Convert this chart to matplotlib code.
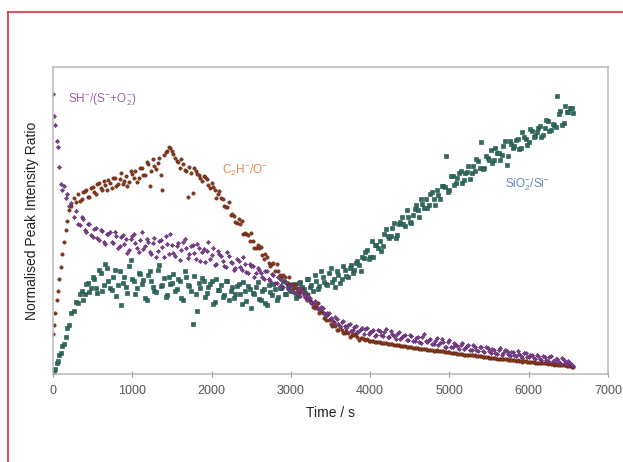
import matplotlib
matplotlib.use("Agg")
import matplotlib.pyplot as plt
from matplotlib.lines import Line2D

plt.rcParams['font.family'] = ['Liberation Sans', 'DejaVu Sans']
plt.rcParams['mathtext.default'] = 'regular'

#-------------------------------------
# sample times (s) of the first set of readings
time_s = [0, 15, 30, 45, 60, 80, 100, 120, 140, 160,
          180, 200, 230, 260, 290, 320, 360, 400, 440, 480,
          520, 560, 600, 640, 680, 720, 760, 800, 840, 880,
          920, 960, 1000, 1040, 1080, 1120, 1160, 1200, 1240, 1280,
          1320, 1360, 1400, 1440, 1480, 1520, 1560, 1600, 1640, 1680,
          1720, 1760, 1800, 1840, 1880, 1920, 1960, 2000, 2040, 2080,
          2120, 2160, 2200, 2240, 2280, 2320, 2360, 2400, 2440, 2480,
          2520, 2560, 2600, 2640, 2680, 2720, 2760, 2800, 2840, 2880,
          2920, 2960, 3000, 3040, 3080, 3120, 3160, 3200, 3240, 3280,
          3320, 3360, 3400, 3440, 3480, 3520, 3560, 3600, 3640, 3680,
          3720, 3760, 3800, 3840, 3880, 3920, 3960, 4000, 4040, 4080,
          4120, 4160, 4200, 4240, 4280, 4320, 4360, 4400, 4440, 4480,
          4520, 4560, 4600, 4640, 4680, 4720, 4760, 4800, 4840, 4880,
          4920, 4960, 5000, 5040, 5080, 5120, 5160, 5200, 5240, 5280,
          5320, 5360, 5400, 5440, 5480, 5520, 5560, 5600, 5640, 5680,
          5720, 5760, 5800, 5840, 5880, 5920, 5960, 6000, 6040, 6080,
          6120, 6160, 6200, 6240, 6280, 6320, 6360, 6400, 6440, 6480,
          6520, 6560]

# SH- / (S- + O2-)
sh_ratio = [0.912, 0.84, 0.811, 0.76, 0.74, 0.675, 0.62, 0.60, 0.612, 0.575,
            0.585, 0.548, 0.556, 0.512, 0.531, 0.49, 0.512, 0.47, 0.488, 0.452,
            0.472, 0.445, 0.468, 0.431, 0.455, 0.462, 0.427, 0.449, 0.418, 0.452,
            0.44, 0.405, 0.451, 0.428, 0.398, 0.462, 0.417, 0.43, 0.392, 0.445,
            0.402, 0.438, 0.381, 0.425, 0.456, 0.395, 0.418, 0.372, 0.43, 0.41,
            0.392, 0.421, 0.375, 0.41, 0.398, 0.366, 0.43, 0.388, 0.357, 0.402,
            0.385, 0.352, 0.398, 0.365, 0.34, 0.374, 0.35, 0.382, 0.332, 0.36,
            0.352, 0.328, 0.34, 0.315, 0.336, 0.31, 0.325, 0.298, 0.318, 0.292,
            0.30, 0.278, 0.292, 0.265, 0.271, 0.255, 0.262, 0.24, 0.248, 0.228,
            0.232, 0.21, 0.215, 0.19, 0.198, 0.178, 0.186, 0.165, 0.17, 0.158,
            0.16, 0.142, 0.155, 0.138, 0.148, 0.13, 0.151, 0.136, 0.145, 0.128,
            0.14, 0.125, 0.148, 0.12, 0.132, 0.115, 0.138, 0.122, 0.128, 0.112,
            0.125, 0.108, 0.12, 0.10, 0.132, 0.106, 0.114, 0.098, 0.118, 0.102,
            0.105, 0.09, 0.112, 0.088, 0.096, 0.082, 0.10, 0.086, 0.094, 0.08,
            0.09, 0.075, 0.088, 0.072, 0.084, 0.068, 0.079, 0.066, 0.085, 0.07,
            0.074, 0.06, 0.072, 0.058, 0.066, 0.052, 0.07, 0.056, 0.062, 0.05,
            0.058, 0.046, 0.055, 0.042, 0.06, 0.04, 0.048, 0.036, 0.045, 0.032,
            0.036, 0.026]

# C2H- / O-
c2h_ratio = [0.13, 0.16, 0.20, 0.24, 0.27, 0.31, 0.35, 0.39, 0.43, 0.47,
             0.498, 0.535, 0.548, 0.572, 0.561, 0.585, 0.57, 0.596, 0.578, 0.605,
             0.592, 0.618, 0.605, 0.628, 0.598, 0.621, 0.64, 0.612, 0.635, 0.62,
             0.645, 0.625, 0.652, 0.66, 0.638, 0.672, 0.65, 0.685, 0.66, 0.678,
             0.688, 0.65, 0.712, 0.726, 0.735, 0.718, 0.695, 0.672, 0.684, 0.66,
             0.675, 0.59, 0.662, 0.65, 0.628, 0.642, 0.615, 0.622, 0.598, 0.585,
             0.572, 0.548, 0.545, 0.518, 0.515, 0.492, 0.49, 0.458, 0.455, 0.432,
             0.432, 0.41, 0.412, 0.388, 0.39, 0.362, 0.36, 0.335, 0.336, 0.312,
             0.315, 0.296, 0.294, 0.28, 0.282, 0.266, 0.262, 0.242, 0.24, 0.22,
             0.222, 0.20, 0.198, 0.178, 0.176, 0.158, 0.157, 0.145, 0.144, 0.134,
             0.134, 0.126, 0.127, 0.12, 0.119, 0.114, 0.114, 0.108, 0.109, 0.104,
             0.104, 0.10, 0.101, 0.097, 0.098, 0.094, 0.095, 0.091, 0.092, 0.089,
             0.088, 0.086, 0.085, 0.082, 0.083, 0.079, 0.08, 0.077, 0.078, 0.074,
             0.074, 0.071, 0.072, 0.068, 0.069, 0.066, 0.066, 0.063, 0.064, 0.061,
             0.061, 0.058, 0.058, 0.055, 0.056, 0.053, 0.053, 0.05, 0.051, 0.048,
             0.048, 0.045, 0.046, 0.043, 0.043, 0.041, 0.042, 0.039, 0.04, 0.037,
             0.037, 0.035, 0.036, 0.033, 0.033, 0.031, 0.031, 0.029, 0.029, 0.027,
             0.026, 0.024]

# SiO2- / Si-
sio2_ratio = [0.0, 0.01, 0.018, 0.035, 0.042, 0.062, 0.068, 0.092, 0.098, 0.122,
              0.152, 0.16, 0.198, 0.205, 0.236, 0.232, 0.272, 0.262, 0.298, 0.281,
              0.31, 0.265, 0.33, 0.292, 0.345, 0.28, 0.318, 0.255, 0.336, 0.298,
              0.285, 0.352, 0.31, 0.262, 0.33, 0.295, 0.248, 0.322, 0.305, 0.27,
              0.34, 0.288, 0.312, 0.258, 0.295, 0.325, 0.276, 0.302, 0.24, 0.318,
              0.286, 0.165, 0.262, 0.298, 0.312, 0.252, 0.285, 0.305, 0.235, 0.275,
              0.292, 0.258, 0.305, 0.27, 0.248, 0.288, 0.262, 0.30, 0.238, 0.278,
              0.265, 0.285, 0.245, 0.272, 0.232, 0.29, 0.258, 0.276, 0.25, 0.28,
              0.262, 0.288, 0.27, 0.295, 0.255, 0.30, 0.278, 0.31, 0.285, 0.272,
              0.305, 0.288, 0.318, 0.295, 0.33, 0.30, 0.285, 0.322, 0.31, 0.34,
              0.318, 0.355, 0.34, 0.37, 0.337, 0.378, 0.403, 0.38, 0.38, 0.422,
              0.433, 0.416, 0.472, 0.444, 0.477, 0.444, 0.49, 0.512, 0.483, 0.511,
              0.491, 0.537, 0.536, 0.569, 0.54, 0.541, 0.588, 0.571, 0.599, 0.57,
              0.612, 0.71, 0.599, 0.646, 0.624, 0.654, 0.621, 0.656, 0.677, 0.654,
              0.66, 0.695, 0.755, 0.67, 0.705, 0.729, 0.696, 0.72, 0.696, 0.743,
              0.68, 0.758, 0.736, 0.761, 0.733, 0.788, 0.767, 0.755, 0.793, 0.775,
              0.801, 0.773, 0.802, 0.825, 0.796, 0.81, 0.905, 0.856, 0.819, 0.854,
              0.868, 0.85]

# second, interleaved set of readings
time_b = [340, 380, 420, 460, 500, 540, 580, 620, 660, 700,
          740, 780, 820, 860, 900, 940, 980, 1020, 1060, 1100,
          1140, 1180, 1220, 1260, 1300, 1340, 1380, 1420, 1460, 1500,
          1540, 1580, 1620, 1660, 1700, 1740, 1780, 1820, 1860, 1900,
          1940, 1980, 2020, 2060, 2100, 2140, 2180, 2220, 2260, 2300,
          2340, 2380, 2420, 2460, 2500, 2540, 2580, 2620, 2660, 2700,
          2740, 2780, 2820, 2860, 2900, 2940, 2980, 3020, 3060, 3100,
          3140, 3180, 3220, 3260, 3300, 3340, 3380, 3420, 3460, 3500,
          3540, 3580, 3620, 3660, 3700, 3740, 3780, 3820, 3860, 3900,
          3940, 3980, 4020, 4060, 4100, 4140, 4180, 4220, 4260, 4300,
          4340, 4380, 4420, 4460, 4500, 4540, 4580, 4620, 4660, 4700,
          4740, 4780, 4820, 4860, 4900, 4940, 4980, 5020, 5060, 5100,
          5140, 5180, 5220, 5260, 5300, 5340, 5380, 5420, 5460, 5500,
          5540, 5580, 5620, 5660, 5700, 5740, 5780, 5820, 5860, 5900,
          5940, 5980, 6020, 6060, 6100, 6140, 6180, 6220, 6260, 6300,
          6340, 6380, 6420, 6460, 6500, 6540]

sh_ratio_b = [0.485, 0.505, 0.462, 0.49, 0.448, 0.475, 0.438, 0.466, 0.425, 0.458,
              0.43, 0.462, 0.41, 0.448, 0.425, 0.395, 0.44, 0.455, 0.412, 0.436,
              0.408, 0.44, 0.398, 0.426, 0.38, 0.432, 0.415, 0.45, 0.39, 0.422,
              0.385, 0.428, 0.405, 0.44, 0.378, 0.416, 0.395, 0.425, 0.37, 0.408,
              0.402, 0.375, 0.412, 0.36, 0.392, 0.37, 0.348, 0.385, 0.362, 0.345,
              0.368, 0.34, 0.36, 0.328, 0.352, 0.318, 0.345, 0.33, 0.31, 0.336,
              0.305, 0.322, 0.298, 0.31, 0.285, 0.30, 0.275, 0.288, 0.265, 0.28,
              0.272, 0.25, 0.255, 0.232, 0.238, 0.215, 0.22, 0.198, 0.20, 0.182,
              0.168, 0.18, 0.158, 0.172, 0.15, 0.162, 0.143, 0.156, 0.14, 0.152,
              0.148, 0.132, 0.14, 0.125, 0.145, 0.128, 0.136, 0.12, 0.142, 0.126,
              0.13, 0.115, 0.125, 0.11, 0.128, 0.108, 0.118, 0.104, 0.122, 0.107,
              0.112, 0.098, 0.108, 0.094, 0.115, 0.09, 0.104, 0.088, 0.10, 0.092,
              0.096, 0.082, 0.092, 0.078, 0.095, 0.08, 0.087, 0.074, 0.09, 0.076,
              0.082, 0.07, 0.078, 0.064, 0.08, 0.067, 0.073, 0.062, 0.076, 0.06,
              0.068, 0.055, 0.064, 0.052, 0.062, 0.048, 0.058, 0.046, 0.055, 0.044,
              0.05, 0.04, 0.052, 0.037, 0.042, 0.03]

c2h_ratio_b = [0.565, 0.592, 0.60, 0.578, 0.61, 0.588, 0.622, 0.598, 0.615, 0.632,
               0.605, 0.64, 0.618, 0.655, 0.628, 0.612, 0.662, 0.64, 0.625, 0.67,
               0.648, 0.692, 0.612, 0.70, 0.668, 0.705, 0.598, 0.722, 0.74, 0.728,
               0.705, 0.69, 0.70, 0.665, 0.578, 0.655, 0.67, 0.652, 0.638, 0.645,
               0.637, 0.605, 0.608, 0.575, 0.595, 0.57, 0.543, 0.56, 0.523, 0.497,
               0.506, 0.499, 0.46, 0.452, 0.46, 0.412, 0.419, 0.414, 0.376, 0.38,
               0.353, 0.363, 0.358, 0.324, 0.324, 0.297, 0.315, 0.29, 0.294, 0.267,
               0.278, 0.25, 0.262, 0.234, 0.215, 0.231, 0.207, 0.182, 0.192, 0.162,
               0.17, 0.144, 0.153, 0.133, 0.14, 0.12, 0.13, 0.131, 0.113, 0.118,
               0.112, 0.109, 0.108, 0.105, 0.104, 0.10, 0.101, 0.098, 0.098, 0.095,
               0.094, 0.092, 0.091, 0.088, 0.088, 0.086, 0.085, 0.083, 0.083, 0.081,
               0.08, 0.078, 0.077, 0.075, 0.074, 0.072, 0.071, 0.07, 0.069, 0.067,
               0.066, 0.064, 0.063, 0.061, 0.061, 0.059, 0.058, 0.057, 0.056, 0.054,
               0.053, 0.052, 0.05, 0.05, 0.048, 0.047, 0.046, 0.045, 0.045, 0.043,
               0.042, 0.041, 0.04, 0.039, 0.038, 0.037, 0.036, 0.035, 0.035, 0.034,
               0.032, 0.031, 0.03, 0.029, 0.027, 0.025]

sio2_ratio_b = [0.262, 0.24, 0.295, 0.268, 0.318, 0.282, 0.34, 0.27, 0.36, 0.305,
                0.275, 0.338, 0.29, 0.225, 0.318, 0.265, 0.372, 0.302, 0.28, 0.325,
                0.308, 0.242, 0.335, 0.285, 0.268, 0.355, 0.29, 0.25, 0.315, 0.298,
                0.272, 0.31, 0.248, 0.335, 0.29, 0.27, 0.32, 0.205, 0.282, 0.305,
                0.265, 0.295, 0.228, 0.31, 0.275, 0.25, 0.302, 0.24, 0.285, 0.26,
                0.295, 0.23, 0.27, 0.288, 0.215, 0.262, 0.30, 0.242, 0.278, 0.225,
                0.268, 0.295, 0.24, 0.282, 0.305, 0.262, 0.29, 0.275, 0.248, 0.298,
                0.285, 0.265, 0.31, 0.29, 0.322, 0.278, 0.335, 0.30, 0.29, 0.345,
                0.31, 0.335, 0.298, 0.352, 0.32, 0.345, 0.33, 0.362, 0.355, 0.38,
                0.397, 0.375, 0.433, 0.42, 0.41, 0.402, 0.458, 0.45, 0.45, 0.493,
                0.454, 0.495, 0.489, 0.533, 0.494, 0.518, 0.55, 0.511, 0.554, 0.57,
                0.551, 0.594, 0.55, 0.582, 0.613, 0.608, 0.592, 0.645, 0.615, 0.638,
                0.66, 0.632, 0.659, 0.635, 0.679, 0.702, 0.672, 0.667, 0.709, 0.696,
                0.688, 0.736, 0.721, 0.712, 0.76, 0.71, 0.749, 0.742, 0.767, 0.737,
                0.772, 0.746, 0.799, 0.772, 0.787, 0.808, 0.778, 0.828, 0.791, 0.813,
                0.805, 0.847, 0.81, 0.873, 0.853, 0.867]
#-------------------------------------

fig = plt.figure(figsize=(6.23, 4.62), dpi=100)
ax = fig.add_axes([0.085, 0.19, 0.891, 0.665])

# (marker, face colour, edge colour) for each ratio
styles = {'sio2': ('s', '#2f6b60', '#1f4f46'),
          'c2h': ('o', '#8a3a1c', '#5e2412'),
          'sh': ('D', '#7e3f8f', '#5a2a68')}

for key, ta, ya, tb, yb in [('sio2', time_s, sio2_ratio, time_b, sio2_ratio_b),
                            ('c2h', time_s, c2h_ratio, time_b, c2h_ratio_b),
                            ('sh', time_s, sh_ratio, time_b, sh_ratio_b)]:
    mk, fc, ec = styles[key]
    size = 2.1 if mk == 'D' else 2.4
    for t, y in [(ta, ya), (tb, yb)]:
        ax.plot(t, y, linestyle='none', marker=mk, markersize=size,
                color=fc, markeredgecolor=ec, markeredgewidth=0.4)

ax.text(190, 0.892, r'SH$^{-}$/(S$^{-}$+O$_2^{-}$)', color='#9a62ab', fontsize=8.5, va='center')
ax.text(2130, 0.664, r'C$_2$H$^{-}$/O$^{-}$', color='#d98a52', fontsize=8.5, va='center')
ax.text(5700, 0.616, r'SiO$_2^{-}$/Si$^{-}$', color='#5f86b5', fontsize=8.5, va='center')

ax.set_xlim(0, 7000)
ax.set_ylim(0, 1)
ax.set_xticks([0, 1000, 2000, 3000, 4000, 5000, 6000, 7000])
ax.set_yticks([])
ax.tick_params(axis='x', direction='inout', length=4, color='#999999',
               labelsize=9, labelcolor='#555555', pad=6)
for s in ax.spines.values():
    s.set_color('#b8b8b8')
    s.set_linewidth(1.1)
ax.set_xlabel('Time / s', fontsize=10, color='#222222', labelpad=6)
ax.set_ylabel('Normalised Peak Intensity Ratio', fontsize=10, color='#222222', labelpad=10)

# red page frame (top and left edges)
fig.add_artist(Line2D([8 / 623, 1.0], [1 - 12 / 462, 1 - 12 / 462], color='#e0303c', linewidth=1.2))
fig.add_artist(Line2D([8 / 623, 8 / 623], [0.0, 1 - 12 / 462], color='#e0303c', linewidth=1.2))

fig.savefig('out.png', dpi=100)
